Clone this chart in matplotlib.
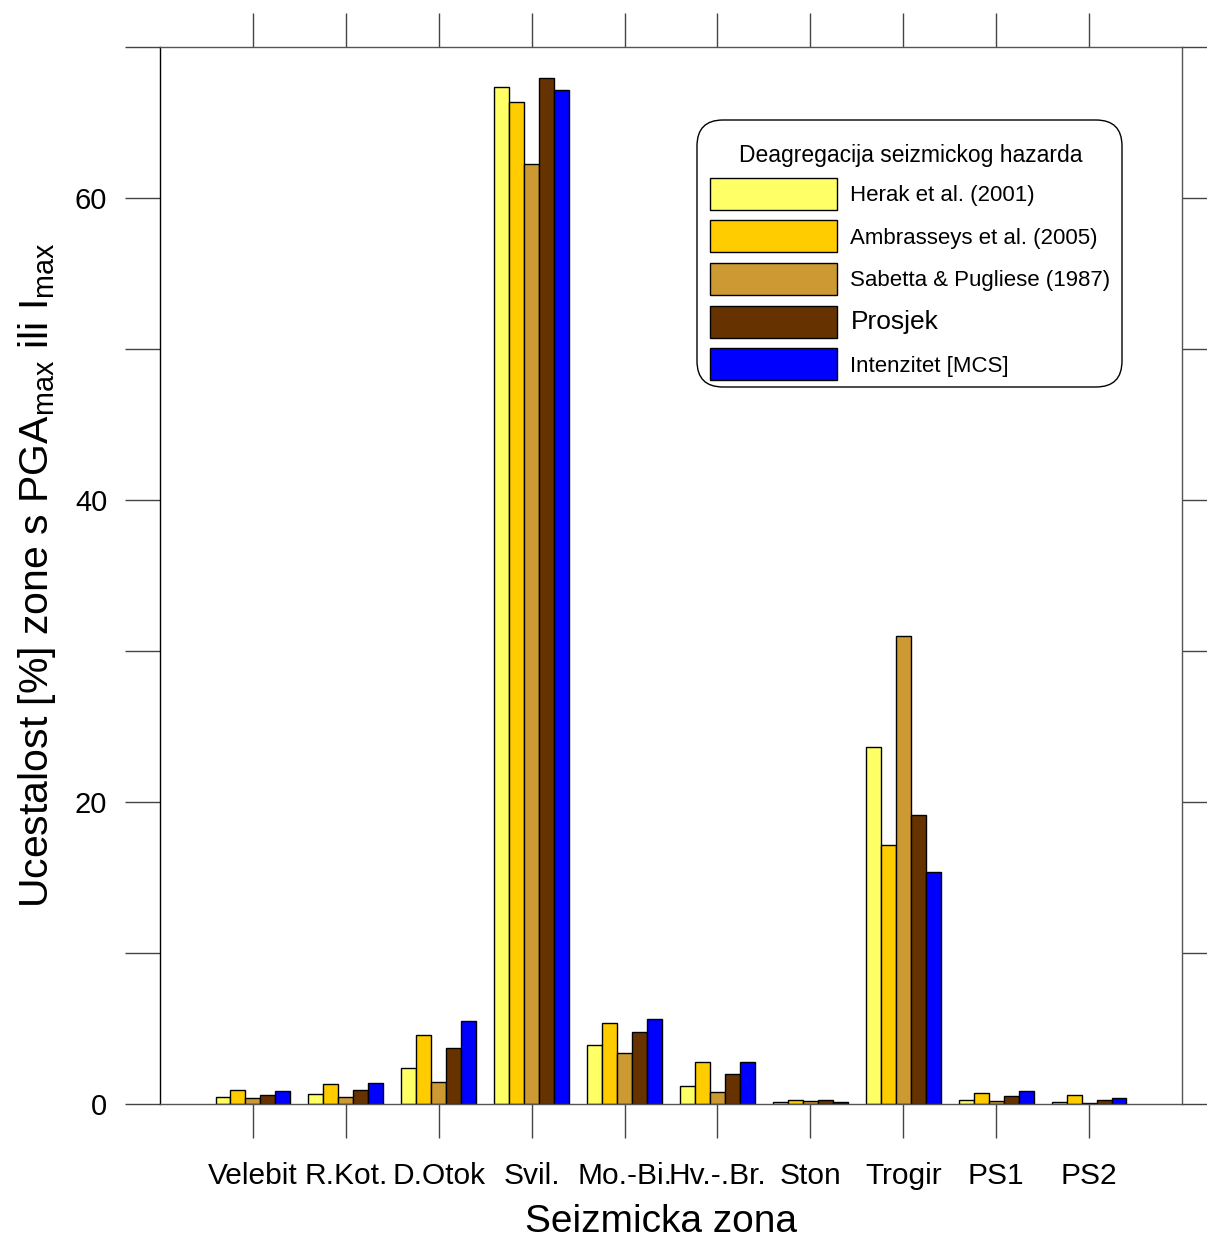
import matplotlib.pyplot as plt
import numpy as np
from matplotlib.patches import Patch, FancyBboxPatch
from matplotlib.transforms import IdentityTransform

# data
zones = ['Velebit', 'R.Kot.', 'D.Otok', 'Svil.', 'Mo.-Bi.', 'Hv.-.Br.',
         'Ston', 'Trogir', 'PS1', 'PS2']
herak = [0.44, 0.66, 2.38, 67.35, 3.9, 1.19, 0.1, 23.64, 0.24, 0.11]
ambrasseys = [0.93, 1.3, 4.6, 66.36, 5.36, 2.78, 0.24, 17.15, 0.7, 0.6]
sabetta = [0.38, 0.49, 1.44, 62.25, 3.38, 0.8, 0.17, 31.0, 0.17, 0.09]
prosjek = [0.62, 0.95, 3.7, 67.95, 4.77, 1.99, 0.29, 19.14, 0.53, 0.24]
intenzitet = [0.84, 1.4, 5.5, 67.15, 5.63, 2.78, 0.15, 15.36, 0.84, 0.42]

series = [herak, ambrasseys, sabetta, prosjek, intenzitet]
labels = ['Herak et al. (2001)', 'Ambrasseys et al. (2005)',
          'Sabetta & Pugliese (1987)', 'Prosjek', 'Intenzitet [MCS]']
colors = ['#FFFF66', '#FFCC00', '#CC9933', '#663300', '#0000FF']

plt.rcParams['font.family'] = ['Liberation Sans', 'DejaVu Sans']

W, H = 1207, 1241
fig = plt.figure(figsize=(W / 100, H / 100), dpi=100)
ax = fig.add_axes([160 / W, 1 - 1104 / H, (1182 - 160) / W, (1104 - 47) / H])

x = np.arange(1, len(zones) + 1)
w = 0.161
for i, (vals, col) in enumerate(zip(series, colors)):
    ax.bar(x + (i - 2) * w, vals, w, color=col, edgecolor='black',
           linewidth=1.0, zorder=2)

ax.set_xlim(0, 11)
ax.set_ylim(0, 70)

ax.set_xticks(x)
ax.set_xticklabels(zones, fontsize=21.5)
ax.set_yticks(range(0, 71, 10))
ax.set_yticklabels(['0', '', '20', '', '40', '', '60', ''], fontsize=21)

ax.tick_params(axis='x', which='both', direction='out', length=24.5, width=1,
               color='#444444', top=True, bottom=True, labeltop=False, pad=17)
ax.tick_params(axis='y', which='both', direction='out', length=25, width=1,
               color='#444444', left=True, right=True, labelright=False, pad=13)

for side in ['top', 'bottom', 'right']:
    ax.spines[side].set_color('#555555')
ax.spines['left'].set_color('black')
for sp in ax.spines.values():
    sp.set_linewidth(1)

ax.set_xlabel('Seizmicka zona', fontsize=28)
ax.xaxis.set_label_coords((661 - 160) / (1182 - 160), -0.095)
ax.set_ylabel(r'Ucestalost [%] zone s PGA$_{\mathregular{max}}$ ili I$_{\mathregular{max}}$',
              fontsize=29.5, labelpad=12)

# legend contents, frame drawn separately (more padding on top than elsewhere)
handles = [Patch(facecolor=c, edgecolor='black', linewidth=1) for c in colors]
leg = ax.legend(handles, labels, title='Deagregacija seizmickog hazarda',
                loc='upper left', bbox_to_anchor=(710 / W, 1 - 144 / H),
                bbox_transform=fig.transFigure, borderaxespad=0,
                prop={'size': 16}, title_fontproperties={'size': 16.5},
                handlelength=5.7, handleheight=1.84, handletextpad=0.62,
                labelspacing=0.48, borderpad=0, frameon=False)
leg.get_texts()[3].set_fontsize(19)

frame = FancyBboxPatch((697, H - 387), 1122 - 697, 387 - 120,
                       boxstyle='round,pad=0,rounding_size=26',
                       transform=IdentityTransform(), facecolor='none',
                       edgecolor='black', linewidth=1)
fig.add_artist(frame)

fig.savefig('out.png', dpi=100)
